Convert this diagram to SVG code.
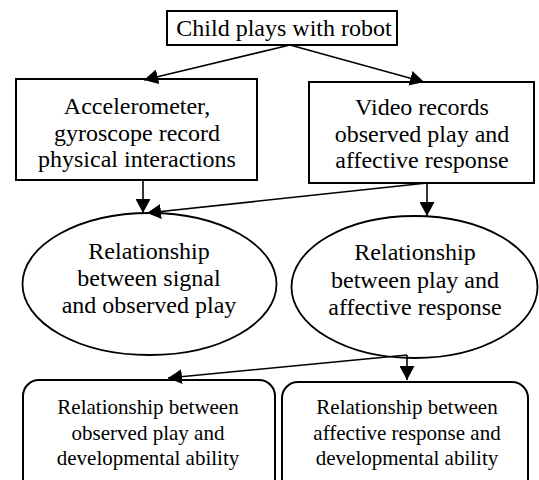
<svg xmlns="http://www.w3.org/2000/svg" width="539" height="480" viewBox="0 0 539 480">
<defs>
<marker id="ah" markerUnits="userSpaceOnUse" markerWidth="14" markerHeight="15" refX="14" refY="7.5" orient="auto">
<path d="M0,0 L14,7.5 L0,15 z" fill="#000"/>
</marker>
<style>
.box{fill:#fff;stroke:#000;stroke-width:2}
.ell{fill:#fff;stroke:#000;stroke-width:1.8}
.t{font-family:"Liberation Serif","Times New Roman","DejaVu Serif",serif;font-size:24px;fill:#000;text-anchor:middle}
.s{font-family:"Liberation Serif","Times New Roman","DejaVu Serif",serif;font-size:21px;fill:#000;text-anchor:middle}
.c{stroke:#000;stroke-width:1.6;fill:none;marker-end:url(#ah)}
</style>
</defs>
<rect width="539" height="480" fill="#fff"/>
<g id="n-child">
<rect class="box" x="167" y="11" width="230" height="34"/>
<text class="t" x="284" y="36">Child plays with robot</text>
</g>
<g id="n-accel">
<rect class="box" x="16" y="79" width="241" height="101"/>
<text class="t" x="137" y="114">Accelerometer,</text>
<text class="t" x="137" y="140.5">gyroscope record</text>
<text class="t" x="137" y="167">physical interactions</text>
</g>
<g id="n-video">
<rect class="box" x="309" y="82" width="225" height="101"/>
<text class="t" x="422" y="115">Video records</text>
<text class="t" x="422" y="141.5">observed play and</text>
<text class="t" x="422" y="168">affective response</text>
</g>
<g id="n-rel-signal">
<ellipse class="ell" cx="149.5" cy="284" rx="127" ry="71"/>
<text class="t" x="149" y="259">Relationship</text>
<text class="t" x="149" y="286">between signal</text>
<text class="t" x="149" y="313">and observed play</text>
</g>
<g id="n-rel-affect">
<ellipse class="ell" cx="414.5" cy="287" rx="123" ry="71"/>
<text class="t" x="415" y="260">Relationship</text>
<text class="t" x="415" y="288">between play and</text>
<text class="t" x="415" y="315">affective response</text>
</g>
<g id="n-dev-play">
<rect class="box" x="23" y="380" width="252" height="115" rx="16" ry="16"/>
<text class="s" x="148" y="414">Relationship between</text>
<text class="s" x="148" y="439.5">observed play and</text>
<text class="s" x="148" y="465">developmental ability</text>
</g>
<g id="n-dev-affect">
<rect class="box" x="282" y="382" width="246" height="113" rx="16" ry="16"/>
<text class="s" x="407" y="414">Relationship between</text>
<text class="s" x="407" y="440">affective response and</text>
<text class="s" x="407" y="465">developmental ability</text>
</g>
<g id="connectors">
<line class="c" x1="290" y1="45" x2="144" y2="80"/>
<line class="c" x1="290" y1="45" x2="424" y2="82"/>
<line class="c" x1="143" y1="180" x2="143" y2="213"/>
<line class="c" x1="427" y1="183" x2="147" y2="213"/>
<line class="c" x1="427" y1="183" x2="427" y2="216"/>
<line class="c" x1="407" y1="355" x2="168" y2="378"/>
<line class="c" x1="407" y1="355" x2="407" y2="380"/>
</g>
</svg>
